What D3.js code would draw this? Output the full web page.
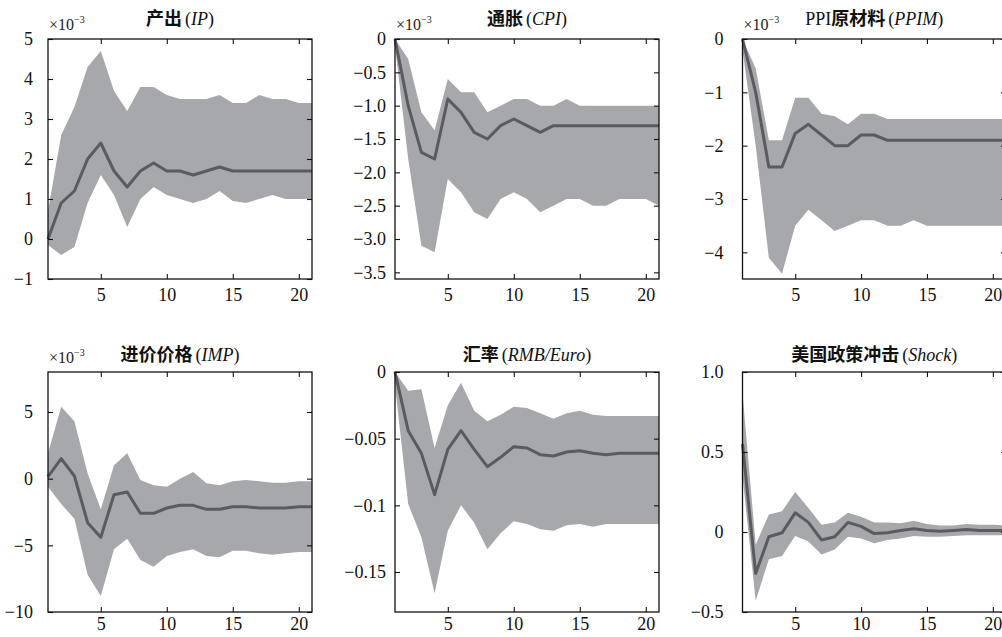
<!DOCTYPE html>
<html>
<head>
<meta charset="utf-8">
<script src="https://cdn.jsdelivr.net/npm/d3@7"></script>
<style>
  html, body { margin: 0; padding: 0; background: #fff; overflow: hidden; }
  svg { display: block; }
  .tick text { font-family: "Liberation Serif", "Times New Roman", serif; font-size: 18px; fill: #111; }
  .tick line { stroke: #111; stroke-width: 1.1; }
</style>
</head>
<body>
<svg id="chart" width="1002" height="637"></svg>
<script>
// impulse responses, periods 1..21
const periods = [1, 2, 3, 4, 5, 6, 7, 8, 9, 10, 11, 12, 13, 14, 15, 16, 17, 18, 19, 20, 21];
const xTicks = [5, 10, 15, 20];

// 产出 (IP), x10^-3
const ipMid = [0, 0.9, 1.2, 2.0, 2.4, 1.7, 1.3, 1.7, 1.9, 1.7, 1.7, 1.6, 1.7, 1.8, 1.7, 1.7, 1.7, 1.7, 1.7, 1.7, 1.7];
const ipUp  = [0.7, 2.6, 3.3, 4.3, 4.7, 3.7, 3.2, 3.8, 3.8, 3.6, 3.5, 3.5, 3.5, 3.6, 3.4, 3.4, 3.6, 3.5, 3.5, 3.4, 3.4];
const ipLow = [-0.15, -0.4, -0.2, 0.9, 1.6, 1.1, 0.3, 1.0, 1.3, 1.1, 1.0, 0.9, 1.0, 1.2, 0.95, 0.9, 1.0, 1.1, 1.0, 1.0, 1.0];

// 通胀 (CPI), x10^-3
const cpiMid = [0, -1.0, -1.7, -1.8, -0.9, -1.1, -1.4, -1.5, -1.3, -1.2, -1.3, -1.4, -1.3, -1.3, -1.3, -1.3, -1.3, -1.3, -1.3, -1.3, -1.3];
const cpiUp  = [0, -0.3, -1.1, -1.37, -0.6, -0.8, -0.8, -1.1, -1.0, -0.9, -0.9, -1.0, -1.0, -0.9, -1.0, -1.0, -1.0, -1.0, -1.0, -1.0, -1.0];
const cpiLow = [-0.1, -1.8, -3.1, -3.2, -2.1, -2.3, -2.6, -2.7, -2.4, -2.3, -2.4, -2.6, -2.5, -2.4, -2.4, -2.5, -2.5, -2.4, -2.4, -2.4, -2.5];

// PPI原材料 (PPIM), x10^-3
const ppimMid = [0, -1.0, -2.4, -2.4, -1.77, -1.6, -1.8, -2.0, -2.0, -1.8, -1.8, -1.9, -1.9, -1.9, -1.9, -1.9, -1.9, -1.9, -1.9, -1.9, -1.9];
const ppimUp  = [0, -0.55, -1.9, -1.9, -1.1, -1.1, -1.4, -1.45, -1.6, -1.4, -1.4, -1.5, -1.5, -1.5, -1.5, -1.5, -1.5, -1.5, -1.5, -1.5, -1.5];
const ppimLow = [-0.2, -2.0, -4.1, -4.4, -3.5, -3.2, -3.4, -3.6, -3.5, -3.4, -3.4, -3.5, -3.5, -3.4, -3.5, -3.5, -3.5, -3.5, -3.5, -3.5, -3.5];

// 进价价格 (IMP), x10^-3
const impMid = [0.15, 1.5, 0.2, -3.3, -4.4, -1.2, -1.0, -2.6, -2.6, -2.2, -2.0, -2.0, -2.3, -2.3, -2.1, -2.1, -2.2, -2.2, -2.2, -2.1, -2.1];
const impUp  = [1.9, 5.4, 4.3, 0.4, -2.3, 1.0, 1.9, -0.1, -0.5, -0.6, 0, 0.5, -0.35, -0.5, -0.2, -0.1, -0.2, -0.3, -0.3, -0.2, -0.2];
const impLow = [-0.6, -1.9, -3.0, -7.2, -8.8, -5.3, -4.5, -6.1, -6.6, -5.8, -5.5, -5.3, -5.8, -5.9, -5.4, -5.4, -5.6, -5.7, -5.6, -5.5, -5.5];

// 汇率 (RMB/Euro)
const fxMid = [0, -0.044, -0.061, -0.092, -0.058, -0.044, -0.058, -0.071, -0.064, -0.056, -0.057, -0.062, -0.063, -0.060, -0.059, -0.061, -0.062, -0.061, -0.061, -0.061, -0.061];
const fxUp  = [0, -0.014, -0.013, -0.057, -0.025, -0.008, -0.029, -0.037, -0.032, -0.026, -0.027, -0.031, -0.035, -0.031, -0.029, -0.032, -0.033, -0.033, -0.033, -0.033, -0.033];
const fxLow = [-0.01, -0.099, -0.124, -0.166, -0.119, -0.100, -0.113, -0.133, -0.121, -0.112, -0.114, -0.118, -0.119, -0.115, -0.114, -0.116, -0.114, -0.114, -0.114, -0.114, -0.114];

// 美国政策冲击 (Shock)
const shockMid = [0.55, -0.26, -0.03, -0.005, 0.12, 0.06, -0.05, -0.03, 0.06, 0.035, -0.01, -0.005, 0.01, 0.02, 0.01, 0.005, 0.01, 0.015, 0.01, 0.01, 0.01];
const shockUp  = [0.87, -0.08, 0.11, 0.13, 0.25, 0.15, 0.045, 0.06, 0.12, 0.095, 0.06, 0.06, 0.055, 0.07, 0.05, 0.04, 0.04, 0.05, 0.045, 0.045, 0.04];
const shockLow = [0.35, -0.43, -0.17, -0.15, -0.025, -0.06, -0.14, -0.11, -0.03, -0.04, -0.07, -0.05, -0.04, -0.025, -0.03, -0.03, -0.025, -0.02, -0.02, -0.02, -0.02];

// y axes: domains, tick values and their printed labels
const ipTicks = [5, 4, 3, 2, 1, 0, -1];
const ipLabels = ["5", "4", "3", "2", "1", "0", "\u22121"];
const cpiTicks = [0, -0.5, -1, -1.5, -2, -2.5, -3, -3.5];
const cpiLabels = ["0", "\u22120.5", "\u22121.0", "\u22121.5", "\u22122.0", "\u22122.5", "\u22123.0", "\u22123.5"];
const ppimTicks = [0, -1, -2, -3, -4];
const ppimLabels = ["0", "\u22121", "\u22122", "\u22123", "\u22124"];
const impTicks = [5, 0, -5, -10];
const impLabels = ["5", "0", "\u22125", "\u221210"];
const fxTicks = [0, -0.05, -0.1, -0.15];
const fxLabels = ["0", "\u22120.05", "\u22120.1", "\u22120.15"];
const shockTicks = [1, 0.5, 0, -0.5];
const shockLabels = ["1.0", "0.5", "0", "\u22120.5"];

const panels = [
  { zh: "产出", en: "IP", pre: "", mid: ipMid, up: ipUp, low: ipLow, dom: [-1, 5], ticks: ipTicks, labels: ipLabels, sci: true, col: 0, row: 0 },
  { zh: "通胀", en: "CPI", pre: "", mid: cpiMid, up: cpiUp, low: cpiLow, dom: [-3.6, 0], ticks: cpiTicks, labels: cpiLabels, sci: true, col: 1, row: 0 },
  { zh: "原材料", en: "PPIM", pre: "PPI", mid: ppimMid, up: ppimUp, low: ppimLow, dom: [-4.5, 0], ticks: ppimTicks, labels: ppimLabels, sci: true, col: 2, row: 0 },
  { zh: "进价价格", en: "IMP", pre: "", mid: impMid, up: impUp, low: impLow, dom: [-10, 8], ticks: impTicks, labels: impLabels, sci: true, col: 0, row: 1 },
  { zh: "汇率", en: "RMB/Euro", pre: "", mid: fxMid, up: fxUp, low: fxLow, dom: [-0.18, 0], ticks: fxTicks, labels: fxLabels, sci: false, col: 1, row: 1 },
  { zh: "美国政策冲击", en: "Shock", pre: "", mid: shockMid, up: shockUp, low: shockLow, dom: [-0.5, 1], ticks: shockTicks, labels: shockLabels, sci: false, col: 2, row: 1 },
];

// layout
const colX = [[48, 312], [395, 659], [742.5, 1006]];
const rowY = [[39, 279], [372, 612]];
const labelPad = [15, 9, 19];
const xLabelPad = [9, 5];
const titleBase = [25, 361];
const sciBase = [30, 363];

const svg = d3.select("#chart");
svg.append("rect").attr("width", 1002).attr("height", 637).attr("fill", "#fff");

const BAND = "#a7a8ab", LINE = "#5b5b5f";
const SERIF = "'Liberation Serif', 'Times New Roman', serif";
const CJK = "'Noto Sans CJK SC', sans-serif";

panels.forEach((p) => {
  const [L, R] = colX[p.col];
  const [T, B] = rowY[p.row];
  const x = d3.scaleLinear().domain([1, 21]).range([L, R]);
  const y = d3.scaleLinear().domain(p.dom).range([B, T]);
  const g = svg.append("g");

  const area = d3.area()
    .x((d, i) => x(periods[i]))
    .y0((d, i) => y(p.low[i]))
    .y1((d, i) => y(p.up[i]));
  g.append("path").datum(p.mid).attr("d", area).attr("fill", BAND);

  const line = d3.line().x((d, i) => x(periods[i])).y((d) => y(d));
  g.append("path").datum(p.mid).attr("d", line)
    .attr("fill", "none").attr("stroke", LINE).attr("stroke-width", 3)
    .attr("stroke-linejoin", "round");

  // axes with inward ticks on all four sides
  g.append("g").attr("transform", `translate(0,${B})`)
    .call(d3.axisBottom(x).tickValues(xTicks).tickSize(-5).tickPadding(xLabelPad[p.row]).tickFormat(d3.format("d")));
  g.append("g").attr("transform", `translate(0,${T})`)
    .call(d3.axisTop(x).tickValues(xTicks).tickSize(-5).tickFormat(""));
  g.append("g").attr("transform", `translate(${L},0)`)
    .call(d3.axisLeft(y).tickValues(p.ticks).tickSize(-5).tickPadding(labelPad[p.col])
      .tickFormat((d, i) => p.labels[i]));
  g.append("g").attr("transform", `translate(${R},0)`)
    .call(d3.axisRight(y).tickValues(p.ticks).tickSize(-5).tickFormat(""));
  g.selectAll(".domain").remove();

  g.append("rect").attr("x", L).attr("y", T).attr("width", R - L).attr("height", B - T)
    .attr("fill", "none").attr("stroke", "#111").attr("stroke-width", 1.3);

  // title
  const t = g.append("text").attr("x", (L + R) / 2).attr("y", titleBase[p.row])
    .attr("text-anchor", "middle").style("font-size", "18px").attr("fill", "#111");
  if (p.pre) t.append("tspan").style("font-family", SERIF).text(p.pre);
  t.append("tspan").style("font-family", CJK).style("font-weight", 700).text(p.zh);
  t.append("tspan").attr("dx", 3).style("font-family", SERIF).text("(");
  t.append("tspan").style("font-family", SERIF).style("font-style", "italic").text(p.en);
  t.append("tspan").style("font-family", SERIF).text(")");

  // x10^-3 multiplier
  if (p.sci) {
    const s = g.append("text").attr("x", L + 1).attr("y", sciBase[p.row])
      .style("font-family", SERIF).style("font-size", "16px").attr("fill", "#222");
    s.append("tspan").text("×10");
    s.append("tspan").attr("dy", -7).style("font-size", "10px").text("\u22123");
  }
});
</script>
</body>
</html>
